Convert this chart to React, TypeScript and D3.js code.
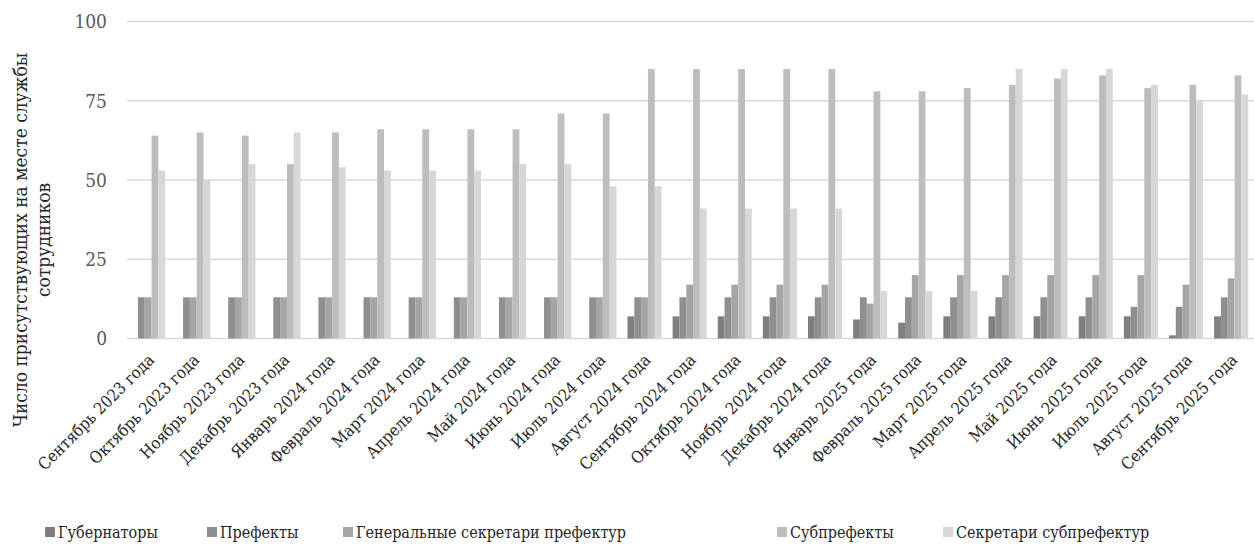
import React from "react";
import * as d3 from "d3";

const categories = [
  "Сентябрь 2023 года", "Октябрь 2023 года", "Ноябрь 2023 года", "Декабрь 2023 года",
  "Январь 2024 года", "Февраль 2024 года", "Март 2024 года", "Апрель 2024 года",
  "Май 2024 года", "Июнь 2024 года", "Июль 2024 года", "Август 2024 года",
  "Сентябрь 2024 года", "Октябрь 2024 года", "Ноябрь 2024 года", "Декабрь 2024 года",
  "Январь 2025 года", "Февраль 2025 года", "Март 2025 года", "Апрель 2025 года",
  "Май 2025 года", "Июнь 2025 года", "Июль 2025 года", "Август 2025 года",
  "Сентябрь 2025 года",
];

const seriesNames = [
  "Губернаторы",
  "Префекты",
  "Генеральные секретари префектур",
  "Субпрефекты",
  "Секретари субпрефектур",
];

const governors = [0, 0, 0, 0, 0, 0, 0, 0, 0, 0, 0, 7, 7, 7, 7, 7, 6, 5, 7, 7, 7, 7, 7, 1, 7];
const prefects = [13, 13, 13, 13, 13, 13, 13, 13, 13, 13, 13, 13, 13, 13, 13, 13, 13, 13, 13, 13, 13, 13, 10, 10, 13];
const genSecretaries = [13, 13, 13, 13, 13, 13, 13, 13, 13, 13, 13, 13, 17, 17, 17, 17, 11, 20, 20, 20, 20, 20, 20, 17, 19];
const subprefects = [64, 65, 64, 55, 65, 66, 66, 66, 66, 71, 71, 85, 85, 85, 85, 85, 78, 78, 79, 80, 82, 83, 79, 80, 83];
const subSecretaries = [53, 50, 55, 65, 54, 53, 53, 53, 55, 55, 48, 48, 41, 41, 41, 41, 15, 15, 15, 85, 85, 85, 80, 75, 77];

const yTicks = [0, 25, 50, 75, 100];

const colors = ["#7f7f7f", "#8f8f8f", "#a5a5a5", "#bdbdbd", "#d7d7d7"];

const W = 1254;
const H = 546;
const FONT = "'DejaVu Serif Condensed', 'DejaVu Serif', serif";

export default function App() {
  const values = [governors, prefects, genSecretaries, subprefects, subSecretaries];
  const x = d3.scaleBand<string>().domain(categories).range([125.6, 1253.7]).paddingInner(0).paddingOuter(0);
  const bw = x.bandwidth();
  const groupW = bw * 0.755;
  const x1 = d3.scaleBand<string>().domain(seriesNames).range([(bw - groupW) / 2, (bw + groupW) / 2]);
  const y = d3.scaleLinear().domain([0, 100]).range([338.5, 21.5]);

  const legendX = [45, 207, 343, 777, 943];
  const ts = { fontFamily: FONT };

  return (
    <svg width={W} height={H} style={{ position: "absolute", left: 0, top: 0, display: "block", background: "#fff" }}>
      {yTicks.map((t) => (
        <g key={t}>
          <line x1={127} x2={W} y1={y(t)} y2={y(t)} stroke="#d9d9d9" strokeWidth={1.3} />
          <text style={ts} x={107} y={y(t)} dy="0.36em" textAnchor="end" fontSize={19} fill="#595959">{t}</text>
        </g>
      ))}
      {categories.map((c, i) => (
        <g key={c} transform={`translate(${x(c)},0)`}>
          {seriesNames.map((s, k) => {
            const v = values[k][i];
            if (!v) return null;
            return (
              <rect key={s} x={x1(s)} y={y(v)} width={x1.bandwidth()} height={y(0) - y(v)} fill={colors[k]} />
            );
          })}
        </g>
      ))}
      {categories.map((c) => {
        const cx = (x(c) as number) + bw / 2 + 7;
        return (
          <text style={ts} key={c} transform={`translate(${cx},361) rotate(-45)`} textAnchor="end" fontSize={16.5} fill="#262626">{c}</text>
        );
      })}
      <g transform="translate(27,240) rotate(-90)" fontSize={19} fill="#262626" textAnchor="middle">
        <text style={ts} x={0} y={0}>Число присутствующих на месте службы</text>
        <text style={ts} x={0} y={23}>сотрудников</text>
      </g>
      {seriesNames.map((s, k) => (
        <g key={s} transform={`translate(${legendX[k]},0)`}>
          <rect x={0} y={527} width={10} height={10} fill={colors[k]} />
          <text style={ts} x={13} y={532} dy="0.36em" fontSize={16} fill="#262626">{s}</text>
        </g>
      ))}
    </svg>
  );
}
